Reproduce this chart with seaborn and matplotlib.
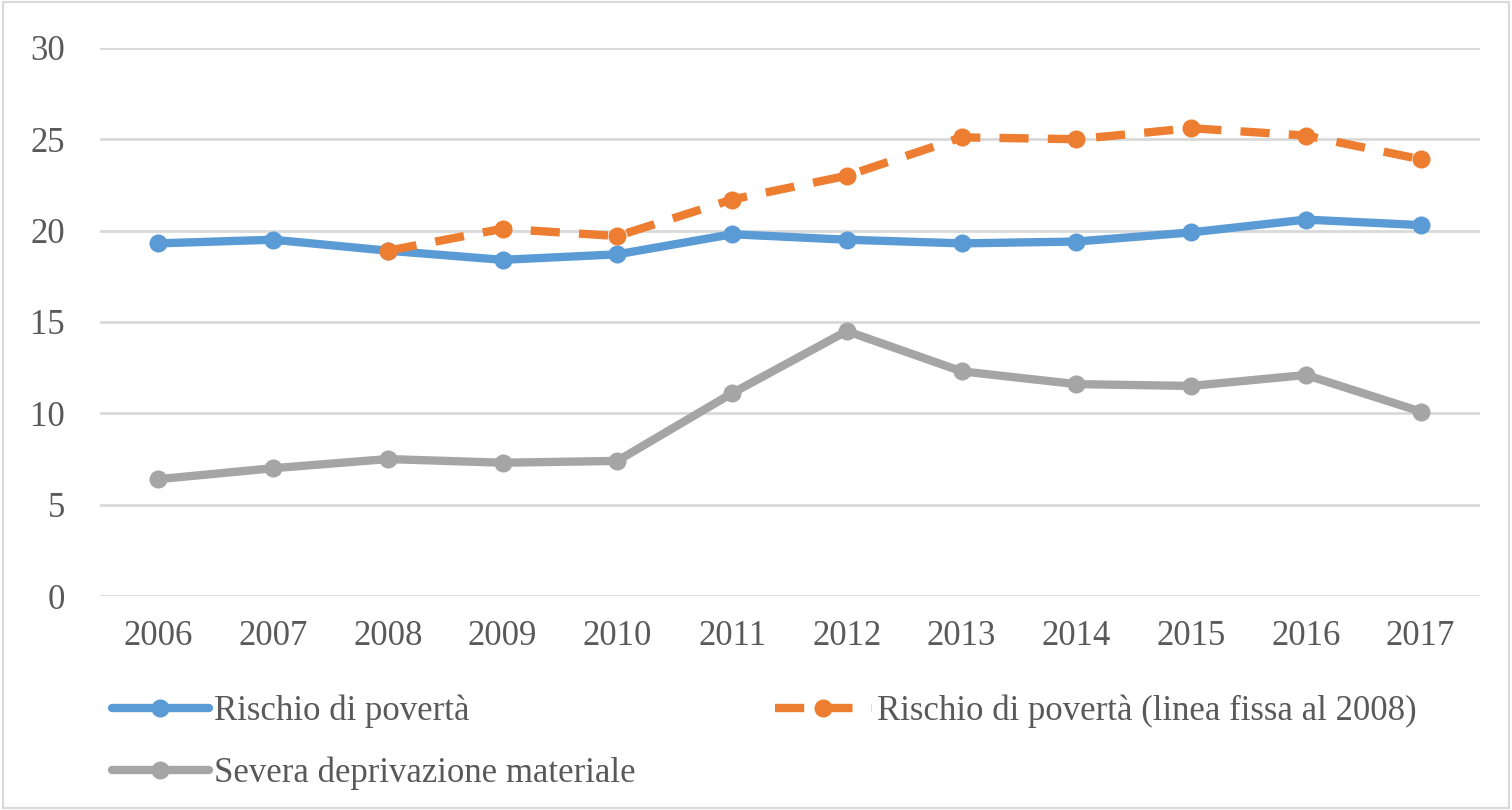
import matplotlib
matplotlib.use("Agg")
import matplotlib.pyplot as plt
import seaborn as sns
import numpy as np
import pandas as pd

years = [2006, 2007, 2008, 2009, 2010, 2011, 2012, 2013, 2014, 2015, 2016, 2017]
rischio = [19.3, 19.5, 18.9, 18.4, 18.7, 19.8, 19.5, 19.3, 19.4, 19.9, 20.6, 20.3]
rischio_2008 = [np.nan, np.nan, 18.9, 20.1, 19.7, 21.7, 23.0, 25.1, 25.0, 25.6, 25.2, 23.9]
deprivazione = [6.4, 7.0, 7.5, 7.3, 7.4, 11.1, 14.5, 12.3, 11.6, 11.5, 12.1, 10.1]
yticks = [0, 5, 10, 15, 20, 25, 30]

labels = [
    "Rischio di povertà",
    "Rischio di povertà (linea fissa al 2008)",
    "Severa deprivazione materiale",
]
colors = ["#5B9BD5", "#ED7D31", "#A5A5A5"]

df = pd.DataFrame({
    "anno": years,
    labels[0]: rischio,
    labels[1]: rischio_2008,
    labels[2]: deprivazione,
})

sns.set_style("white")
plt.rcParams["font.family"] = ["Liberation Serif", "DejaVu Serif"]

fig = plt.figure(figsize=(15.12, 8.1), dpi=100)
ax = fig.add_axes([0.066, 0.264, 0.913, 0.677])

styles = [
    dict(linestyle="-"),
    dict(linestyle=(0, (3.5, 2.3))),
    dict(linestyle="-"),
]

for label, color, st in zip(labels, colors, styles):
    sns.lineplot(
        data=df,
        x="anno",
        y=label,
        ax=ax,
        color=color,
        linewidth=6,
        marker="o",
        markersize=13,
        markeredgewidth=0,
        label=label,
        **st
    )

ax.set_xlim(2005.49, 2017.52)
ax.set_ylim(0, 30)
ax.set_xticks(years)
ax.set_xticklabels([str(y) for y in years])
ax.set_yticks(yticks)
ax.set_xlabel("")
ax.set_ylabel("")
ax.grid(axis="y", color="#D9D9D9", linewidth=2)
ax.grid(axis="x", visible=False)
for s in ax.spines.values():
    s.set_visible(False)
ax.tick_params(axis="both", length=0, labelsize=25, labelcolor="#595959")
ax.tick_params(axis="x", pad=17)
ax.tick_params(axis="y", pad=25)

h, l = ax.get_legend_handles_labels()
ax.get_legend().remove()
order = [0, 2, 1]
fig.legend(
    [h[i] for i in order],
    [l[i] for i in order],
    loc="upper left",
    bbox_to_anchor=(0.074, 0.143),
    ncol=2,
    frameon=False,
    fontsize=25,
    handlelength=2.8,
    handletextpad=0.15,
    columnspacing=4.0,
    labelspacing=0.84,
    labelcolor="#595959",
    borderaxespad=0,
    borderpad=0,
)

fig.patches.append(plt.Rectangle(
    (0.002, 0.002), 0.996, 0.996,
    transform=fig.transFigure,
    fill=False,
    edgecolor="#D9D9D9",
    linewidth=1.5,
))

plt.savefig("out.png", dpi=100)
plt.close()
